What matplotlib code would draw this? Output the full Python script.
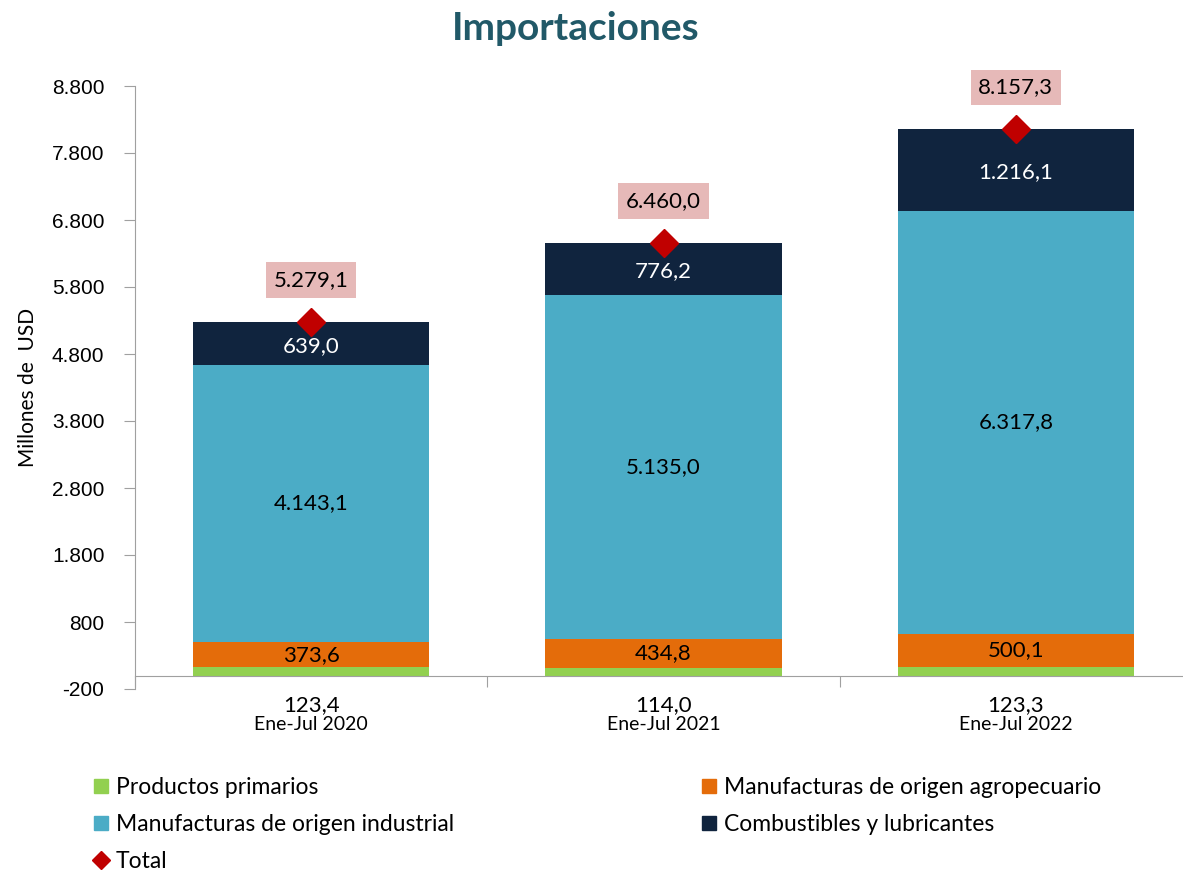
import matplotlib.pyplot as plt
from matplotlib.patches import Patch
from matplotlib.lines import Line2D

plt.rcParams['font.family'] = ['Lato', 'DejaVu Sans']

# datos (millones de USD)
periodos = ['Ene-Jul 2020', 'Ene-Jul 2021', 'Ene-Jul 2022']
primarios = [123.4, 114.0, 123.3]
agro = [373.6, 434.8, 500.1]
industrial = [4143.1, 5135.0, 6317.8]
combustibles = [639.0, 776.2, 1216.1]
total = [5279.1, 6460.0, 8157.3]

c_prim = '#92d050'
c_agro = '#e46c0a'
c_ind = '#4bacc6'
c_comb = '#10243e'
c_tot = '#c00000'


def fmt(v):
    s = f'{v:,.1f}'
    return s.replace(',', 'X').replace('.', ',').replace('X', '.')


fig = plt.figure(figsize=(11.83, 8.75), dpi=100)
ax = fig.add_axes([135 / 1183, 1 - 689 / 875, 1057 / 1183, 603 / 875])

x = list(range(len(periodos)))
w = 0.67
b1 = primarios
b2 = [a + b for a, b in zip(b1, agro)]
b3 = [a + b for a, b in zip(b2, industrial)]

ax.bar(x, primarios, w, color=c_prim)
ax.bar(x, agro, w, bottom=b1, color=c_agro)
ax.bar(x, industrial, w, bottom=b2, color=c_ind)
ax.bar(x, combustibles, w, bottom=b3, color=c_comb)
ax.plot(x, total, linestyle='none', marker='D', markersize=14, color=c_tot, zorder=5)

for i in x:
    ax.text(i, b1[i] + agro[i] / 2, fmt(agro[i]), ha='center', va='center', fontsize=16, color='black')
    ax.text(i, b2[i] + industrial[i] / 2, fmt(industrial[i]), ha='center', va='center', fontsize=16, color='black')
    ax.text(i, b3[i] + combustibles[i] / 2 - 40, fmt(combustibles[i]), ha='center', va='center', fontsize=16, color='white')
    ax.annotate(fmt(total[i]), (i, total[i]), xytext=(0, 30), textcoords='offset points',
                ha='center', va='center', fontsize=16,
                bbox=dict(boxstyle='square,pad=0.35', fc='#e6b9b8', ec='none'))
    # valor de productos primarios y periodo debajo del eje
    ax.text(i, -0.01, fmt(primarios[i]), transform=ax.get_xaxis_transform(),
            ha='center', va='top', fontsize=16)
    ax.text(i, -0.045, periodos[i], transform=ax.get_xaxis_transform(),
            ha='center', va='top', fontsize=14)

ax.set_xlim(-0.5, 2.5)
ax.set_ylim(-200, 8800)
ax.set_yticks(range(-200, 8801, 1000))
ax.set_yticklabels([f'{v:,}'.replace(',', '.') for v in range(-200, 8801, 1000)],
                   fontsize=15, family='Liberation Sans')

# ticks en los limites de categoria
ax.set_xticks([-0.5, 0.5, 1.5, 2.5])
ax.set_xticklabels([])
ax.tick_params(axis='x', length=8, color='#a0a0a0')
ax.tick_params(axis='y', length=8, color='#a0a0a0', pad=14)

for s in ['top', 'right']:
    ax.spines[s].set_visible(False)
ax.spines['left'].set_color('#a0a0a0')
ax.spines['bottom'].set_color('#a0a0a0')
ax.spines['bottom'].set_position(('data', 0))

ax.set_ylabel('Millones de  USD', fontsize=15)
ax.yaxis.set_label_coords(-0.092, 0.5)

fig.text(0.487, 0.967, 'Importaciones', ha='center', va='center', fontsize=28, color='#215968', weight='bold')

sq = dict(handlelength=0.6, handleheight=0.6, handletextpad=0.35, frameon=False,
          fontsize=16.5, labelspacing=0.7, borderpad=0, borderaxespad=0)
h1 = [Patch(color=c_prim), Patch(color=c_ind),
      Line2D([], [], linestyle='none', marker='D', color=c_tot, markersize=9)]
fig.legend(h1, ['Productos primarios', 'Manufacturas de origen industrial', 'Total'],
           loc='upper left', bbox_to_anchor=(94 / 1183, 1 - 777 / 875), **sq)
h2 = [Patch(color=c_agro), Patch(color=c_comb)]
fig.legend(h2, ['Manufacturas de origen agropecuario', 'Combustibles y lubricantes'],
           loc='upper left', bbox_to_anchor=(702 / 1183, 1 - 777 / 875), **sq)

fig.savefig('out.png', dpi=100)
